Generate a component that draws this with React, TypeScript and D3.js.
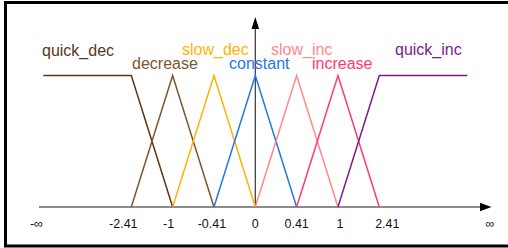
import React from "react";
import * as d3 from "d3";

// membership functions, x in tick-slot units (0 = centre), y in [0,1]
const FAR = 5.13; // where the shoulders stop
const names = ["quick_dec", "decrease", "slow_dec", "constant", "slow_inc", "increase", "quick_inc"];
const colors = ["#5a3518", "#7d5530", "#ffb300", "#1f78e6", "#ff8a8a", "#ff3a73", "#7f1a8a"];
const shapes: [number, number][][] = [
  [[-FAR, 1], [-3, 1], [-2, 0]],
  [[-3, 0], [-2, 1], [-1, 0]],
  [[-2, 0], [-1, 1], [0, 0]],
  [[-1, 0], [0, 1], [1, 0]],
  [[0, 0], [1, 1], [2, 0]],
  [[1, 0], [2, 1], [3, 0]],
  [[2, 0], [3, 1], [FAR, 1]],
];
const tickSlots = [-3, -2, -1, 0, 1, 2, 3];
const tickLabels = ["-2.41", "-1", "-0.41", "0", "0.41", "1", "2.41"];

// layout for annotations
const labelPos: [number, number][] = [
  [42, 56], [132, 69], [182, 55], [229, 69], [271, 55], [312, 69], [395, 55],
];
const tickNudge = [-8, -4, -2, 0, 0, 2, 8];

const W = 508;
const H = 248;

function App() {
  const x = d3.scaleLinear().domain([-3, 3]).range([131.3, 379.3]);
  const y = d3.scaleLinear().domain([0, 1]).range([207, 75.5]);
  const line = d3
    .line<[number, number]>()
    .x((d) => x(d[0]))
    .y((d) => y(d[1]));

  const axisY = y(0);
  const axisX = x(0);
  const font = "Liberation Sans, Arial, sans-serif";

  return (
    <svg width={W} height={H} style={{ position: "absolute", left: 0, top: 0 }} fontFamily={font}>
      <rect x={0} y={0} width={W} height={H} fill="#fff" />
      <rect x={5.5} y={2.5} width={W + 10} height={243.5} fill="none" stroke="#000" strokeWidth={3} />

      {/* x axis */}
      <line x1={39} x2={481} y1={axisY} y2={axisY} stroke="#666" strokeWidth={1.6} />
      <path d={`M480,${axisY - 4.3}L491.5,${axisY}L480,${axisY + 4.3}Z`} fill="#000" />

      {/* y axis */}
      <line x1={axisX} x2={axisX} y1={axisY} y2={28} stroke="#333" strokeWidth={1.2} />
      <path d={`M${axisX - 3.8},29L${axisX},17L${axisX + 3.8},29Z`} fill="#000" />

      {shapes.map((s, i) => (
        <path key={names[i]} d={line(s) || ""} fill="none" stroke={colors[i]} strokeWidth={1.5} />
      ))}

      {names.map((n, i) => (
        <text key={n} x={labelPos[i][0]} y={labelPos[i][1]} fontSize={16} fill={colors[i]}>
          {n}
        </text>
      ))}

      {tickSlots.map((t, i) => (
        <text key={t} x={x(t) + tickNudge[i]} y={228} fontSize={12.5} fill="#111" textAnchor="middle">
          {tickLabels[i]}
        </text>
      ))}
      <text x={36.5} y={228} fontSize={12.5} fill="#111" textAnchor="middle">
        -∞
      </text>
      <text x={490} y={228} fontSize={12.5} fill="#111" textAnchor="middle">
        ∞
      </text>
    </svg>
  );
}

export default App;
